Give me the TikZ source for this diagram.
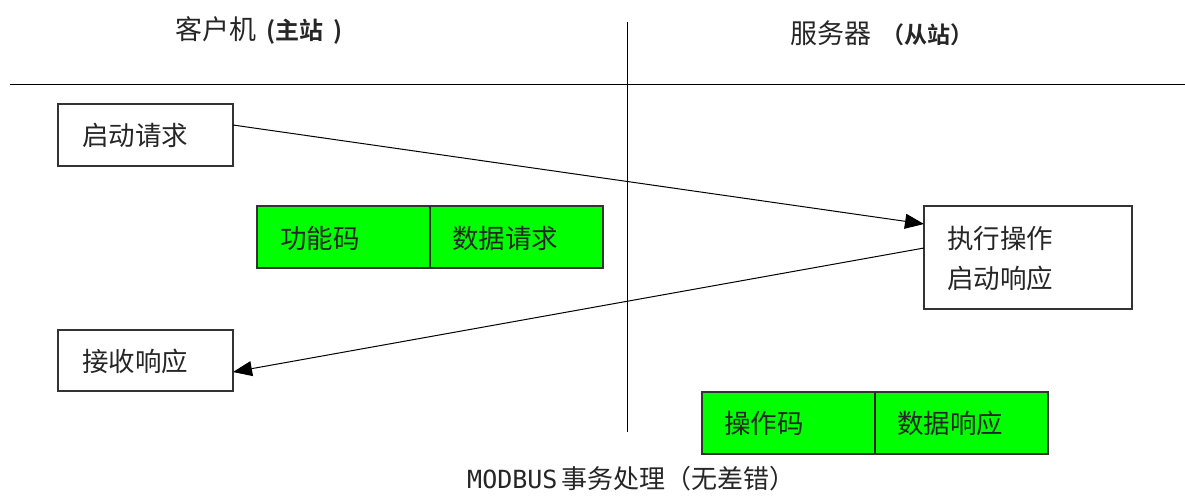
\documentclass[tikz,border=0pt]{standalone}
\usepackage{fontspec}
\newfontfamily\cjk{Noto Sans CJK SC}
\newfontfamily\cjkb{Noto Sans CJK SC Bold}
\newfontfamily\monof{DejaVu Sans Mono}
\usetikzlibrary{arrows.meta}
\definecolor{grn}{RGB}{0,255,0}
\begin{document}
\begin{tikzpicture}[x=1pt,y=-1pt,
  box/.style={draw=black!80,line width=1.2pt,fill=white},
  field/.style={draw=black!80,line width=1.2pt,fill=grn},
  lbl/.style={font=\cjk\fontsize{26.5}{36}\selectfont,text=black!85,anchor=west,inner sep=0pt},
  arr/.style={line width=1pt,-{Triangle[length=19pt,width=15pt]}}]
\useasboundingbox (0,0) rectangle (1185,495);
% axes
\draw[line width=1pt] (10,84) -- (1185,84);
\draw[line width=1pt] (627,22) -- (627,432);
% headers
\node[lbl,font=\cjk\fontsize{27}{30}\selectfont] (hc) at (175,30) {客户机\hspace{10pt}{\cjkb\fontsize{24}{26}\selectfont (主站\hspace{10pt})}};
\node[lbl,font=\cjk\fontsize{27}{30}\selectfont] (hs) at (790,33) {服务器\hspace{10pt}{\cjkb\fontsize{23}{26}\selectfont （从站）}};
% boxes
\draw[box] (58,104) rectangle (233,166);
\node[lbl] (req) at (82,135) {启动请求};
\coordinate (reqR) at (233,125);
\draw[box] (924,206) rectangle (1132,309);
\node[lbl] (ex1) at (947,238) {执行操作};
\node[lbl] (ex2) at (947,278) {启动响应};
\coordinate (exIn) at (924,224);
\coordinate (exOut) at (924,248);
\draw[box] (58,330) rectangle (233,391);
\node[lbl] (rcv) at (82,361) {接收响应};
\coordinate (rcvR) at (233,372);
% green fields
\draw[field] (257,206) rectangle (603,268);
\draw[line width=1.2pt,black!85] (430,206) -- (430,268);
\node[lbl] (fc) at (280,238) {功能码};
\node[lbl] (dr) at (452,238) {数据请求};
\draw[field] (702,392) rectangle (1048,454);
\draw[line width=1.2pt,black!85] (875,392) -- (875,454);
\node[lbl] (oc) at (724,423) {操作码};
\node[lbl] (dp) at (897,423) {数据响应};
% arrows
\draw[arr] (reqR) -- (exIn);
\draw[arr] (exOut) -- (rcvR);
% title
\node[anchor=west,inner sep=0pt,text=black!85] (title) at (467,479) {{\monof\fontsize{25}{28}\selectfont MODBUS}\hspace{4pt}{\cjk\fontsize{26}{30}\selectfont 事务处理（无差错）}};
\end{tikzpicture}
\end{document}
